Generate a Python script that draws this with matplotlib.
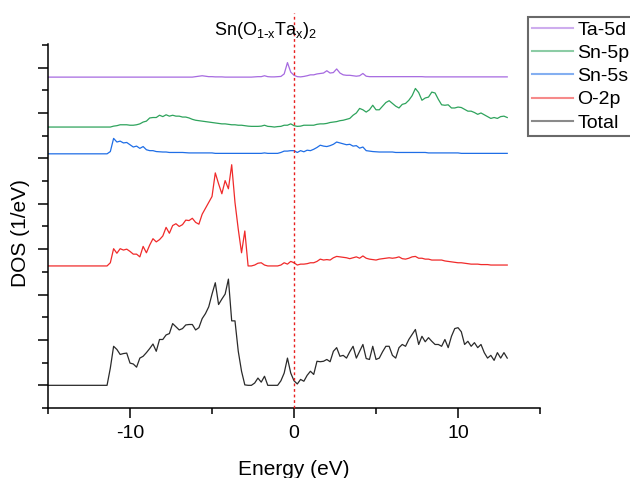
import numpy as np
import matplotlib
matplotlib.use("Agg")
import matplotlib.pyplot as plt
from matplotlib.ticker import MultipleLocator

plt.rcParams['font.family'] = ['Liberation Sans', 'DejaVu Sans']
plt.rcParams['axes.unicode_minus'] = False

# energy grid (eV), 0.2 eV step from -15 to 13
energy = np.round(np.arange(-15, 13.01, 0.2), 1)

# DOS values (arbitrary units, 10 per major y tick)
dos_total = [0, 0, 0, 0, 0, 0, 0, 0, 0, 0,
             0, 0, 0, 0, 0, 0, 0, 0, 0, 3.8,
             8.6, 7.9, 6.8, 7.0, 7.1, 4.9, 4.7, 4.0, 6.0, 6.4,
             7.2, 8.1, 9.1, 7.5, 10.1, 10.1, 11.1, 11.4, 13.6, 12.9,
             12.2, 12.5, 13.3, 13.4, 13.4, 12.2, 12.7, 14.7, 15.8, 17.3,
             20.1, 22.6, 17.8, 19.0, 20.1, 23.4, 14.2, 14.2, 7.5, 3.1,
             0.1, 0, 0, 0.5, 1.6, 0.7, 2.0, 0, 0, 0,
             0, 1.0, 2.7, 6.0, 2.7, 1.0, 0.3, 1.3, 0.9, 2.2,
             3.1, 2.4, 5.3, 5.2, 5.3, 5.7, 5.2, 7.5, 8.3, 6.4,
             6.6, 6.0, 7.4, 8.6, 6.0, 7.5, 9.0, 5.9, 5.7, 8.6,
             5.7, 6.0, 7.4, 8.6, 8.6, 6.6, 6.0, 8.3, 9.0, 8.6,
             10.1, 11.2, 12.3, 9.0, 10.8, 9.6, 10.5, 9.7, 9.0, 9.0,
             8.6, 10.1, 8.3, 10.8, 12.5, 12.7, 11.8, 9.0, 9.7, 8.6,
             9.4, 8.3, 9.0, 7.2, 6.0, 6.6, 5.5, 7.2, 6.0, 7.2,
             6.0]

dos_o2p = [0, 0, 0, 0, 0, 0, 0, 0, 0, 0,
           0, 0, 0, 0, 0, 0, 0, 0, 0, 0.7,
           3.8, 2.8, 3.8, 3.5, 3.7, 3.2, 2.6, 2.6, 2.0, 4.3,
           2.9, 4.6, 6.0, 5.3, 5.8, 6.6, 8.5, 7.2, 8.9, 9.3,
           8.7, 9.1, 10.1, 10.0, 10.5, 9.6, 9.2, 11.4, 12.7, 14.0,
           15.3, 20.5, 18.1, 15.9, 18.8, 17.0, 22.3, 14.0, 8.1, 2.9,
           7.7, 0, 0, 0.2, 0.6, 0.7, 0.2, 0, 0, 0,
           0, 0.2, 0.7, 0.4, 1.0, 0.7, 0.2, 0.4, 0.4, 0.5,
           0.7, 0.7, 1.0, 1.5, 1.3, 1.4, 1.3, 1.8, 2.1, 2.0,
           1.9, 1.8, 1.6, 1.8, 2.0, 1.7, 2.2, 1.7, 1.5, 1.4,
           1.3, 1.5, 1.6, 1.7, 1.8, 1.7, 1.8, 2.0, 1.6, 1.5,
           1.7, 2.0, 2.1, 1.7, 1.7, 1.5, 1.5, 1.3, 1.3, 1.3,
           1.3, 1.1, 1.0, 0.9, 0.8, 0.7, 0.7, 0.6, 0.5, 0.4,
           0.4, 0.4, 0.3, 0.3, 0.3, 0.2, 0.2, 0.2, 0.2, 0.2,
           0.2]

dos_sn5s = [0, 0, 0, 0, 0, 0, 0, 0, 0, 0,
            0, 0, 0, 0, 0, 0, 0, 0, 0, 0.5,
            3.4, 2.6, 2.8, 2.4, 2.5, 2.0, 1.5, 1.7, 1.2, 1.6,
            0.9, 0.7, 0.7, 0.5, 0.45, 0.4, 0.4, 0.3, 0.3, 0.3,
            0.3, 0.3, 0.25, 0.2, 0.2, 0.2, 0.2, 0.2, 0.2, 0.2,
            0.2, 0.1, 0.1, 0.1, 0.1, 0.1, 0.1, 0.1, 0.1, 0.1,
            0.1, 0.1, 0.1, 0.1, 0.1, 0.1, 0.2, 0.1, 0.1, 0.1,
            0.1, 0.3, 0.6, 0.6, 0.7, 0.7, 0.3, 0.7, 0.45, 0.8,
            0.7, 1.0, 1.4, 1.9, 1.7, 1.6, 1.8, 2.1, 2.6, 2.4,
            2.2, 2.0, 2.1, 1.7, 1.8, 1.25, 1.5, 0.7, 0.6, 0.5,
            0.45, 0.4, 0.4, 0.4, 0.4, 0.4, 0.3, 0.3, 0.3, 0.3,
            0.3, 0.3, 0.3, 0.3, 0.3, 0.3, 0.2, 0.2, 0.2, 0.2,
            0.2, 0.2, 0.2, 0.2, 0.2, 0.2, 0.1, 0.1, 0.1, 0.1,
            0.1, 0.1, 0.1, 0.1, 0.1, 0.1, 0.1, 0.1, 0.1, 0.1,
            0.1]

dos_sn5p = [0, 0, 0, 0, 0, 0, 0, 0, 0, 0,
            0, 0, 0, 0, 0, 0, 0, 0, 0, 0,
            0.2, 0.3, 0.5, 0.5, 0.5, 0.4, 0.4, 0.5, 0.7, 1.1,
            1.3, 2.0, 2.1, 2.1, 2.6, 2.3, 2.7, 2.4, 2.6, 2.4,
            2.4, 2.2, 2.2, 2.0, 1.7, 1.5, 1.4, 1.3, 1.2, 1.1,
            1.0, 0.9, 0.8, 0.7, 0.7, 0.6, 0.5, 0.5, 0.4, 0.4,
            0.3, 0.2, 0.15, 0.15, 0.15, 0.2, 0.4, 0.15, 0.1, 0,
            0.1, 0.15, 0.4, 0.4, 0.7, 0.3, 0.15, 0.2, 0.4, 0.4,
            0.4, 0.4, 0.6, 0.7, 0.7, 0.8, 1.0, 1.1, 1.2, 1.4,
            1.5, 1.7, 1.9, 2.6, 3.1, 4.1, 3.8, 3.3, 3.8, 4.8,
            3.8, 3.8, 4.6, 5.4, 5.8, 5.2, 4.6, 4.2, 5.0, 5.2,
            5.9, 6.9, 8.5, 7.6, 5.9, 6.4, 6.6, 7.7, 7.5, 6.1,
            4.9, 4.8, 4.9, 4.2, 4.2, 4.4, 4.3, 3.9, 3.5, 3.5,
            3.2, 2.8, 3.1, 2.7, 2.3, 1.9, 2.1, 1.9, 2.3, 2.4,
            2.1]

dos_ta5d = [0, 0, 0, 0, 0, 0, 0, 0, 0, 0,
            0, 0, 0, 0, 0, 0, 0, 0, 0, 0,
            0, 0, 0, 0, 0, 0, 0, 0, 0, 0,
            0, 0, 0, 0, 0, 0, 0, 0, 0, 0,
            0, 0, 0, 0, 0, 0.1, 0.2, 0.3, 0.2, 0.1,
            0.1, 0.05, 0.05, 0.05, 0, 0, 0, 0, 0, 0,
            0, 0, 0, 0.05, 0.1, 0.1, 0.3, 0.1, 0.05, 0.05,
            0.1, 0.15, 0.7, 3.2, 1.1, 0.4, 0.1, 0.05, 0.15, 0.3,
            0.5, 0.5, 0.7, 0.8, 0.9, 1.4, 0.9, 1.0, 1.8, 0.9,
            0.5, 0.4, 0.4, 0.3, 0.2, 0.3, 0.8, 0.2, 0.1, 0.1,
            0.1, 0.1, 0.1, 0.1, 0.1, 0.1, 0.1, 0.1, 0.1, 0.1,
            0.1, 0.1, 0.1, 0.1, 0.1, 0.05, 0.05, 0.05, 0.05, 0.05,
            0.05, 0.05, 0.05, 0.05, 0.05, 0.05, 0.05, 0.05, 0.05, 0.05,
            0.05, 0.05, 0.05, 0.05, 0.05, 0.05, 0.05, 0.05, 0.05, 0.05,
            0.05]

labels = ['Ta-5d', 'Sn-5p', 'Sn-5s', 'O-2p', 'Total']
offsets = [67.9, 56.9, 51.0, 26.3, 0.0]
colors = ['#a66ae0', '#2ea35c', '#1f6ee6', '#f02a2a', '#2a2a2a']
series = [dos_ta5d, dos_sn5p, dos_sn5s, dos_o2p, dos_total]

fig = plt.figure(figsize=(6.3, 4.78), dpi=100)
ax = fig.add_axes([0.0762, 0.1464, 0.781, 0.7616])

lines = []
for dos, off, c, lab in zip(series, offsets, colors, labels):
    l, = ax.plot(energy, np.array(dos) + off, color=c, lw=0.9, label=lab)
    lines.append(l)

# Fermi level
ax.plot([0, 0], [-5, 82], color='#e82020', lw=1.0, ls=(0, (2, 2)),
        clip_on=False, zorder=5)

ax.set_xlim(-15, 15)
ax.set_ylim(-5, 75.2)
ax.xaxis.set_major_locator(MultipleLocator(10))
ax.xaxis.set_minor_locator(MultipleLocator(5))
ax.yaxis.set_major_locator(MultipleLocator(10))
ax.yaxis.set_minor_locator(MultipleLocator(5))
ax.set_yticklabels([])
ax.tick_params(which='major', length=7, width=1.1, labelsize=14, pad=5)
ax.tick_params(which='minor', length=4, width=1.1)
for s in ['top', 'right']:
    ax.spines[s].set_visible(False)
for s in ['left', 'bottom']:
    ax.spines[s].set_linewidth(1.1)

ax.set_xlabel('Energy (eV)', fontsize=15)
ax.xaxis.set_label_coords(0.5, -0.142)
ax.set_ylabel('DOS (1/eV)', fontsize=15)
ax.yaxis.set_label_coords(-0.036, 0.48)

fig.text(0.422, 0.937, r'Sn(O$_\mathregular{1\text{-}x}$Ta$_\mathregular{x}$)$_\mathregular{2}$',
         ha='center', va='center', fontsize=13)

leg = fig.legend(handles=lines, loc='upper left', bbox_to_anchor=(0.838, 0.964),
                 fontsize=14, frameon=True, fancybox=False, handlelength=2.1,
                 handletextpad=0.25, labelspacing=0.29, borderpad=0.2,
                 borderaxespad=0)
leg.get_frame().set_edgecolor('#444444')
leg.get_frame().set_linewidth(1.5)
for h in leg.legend_handles:
    h.set_alpha(0.55)
    h.set_linewidth(1.5)

fig.savefig('out.png', dpi=100)
